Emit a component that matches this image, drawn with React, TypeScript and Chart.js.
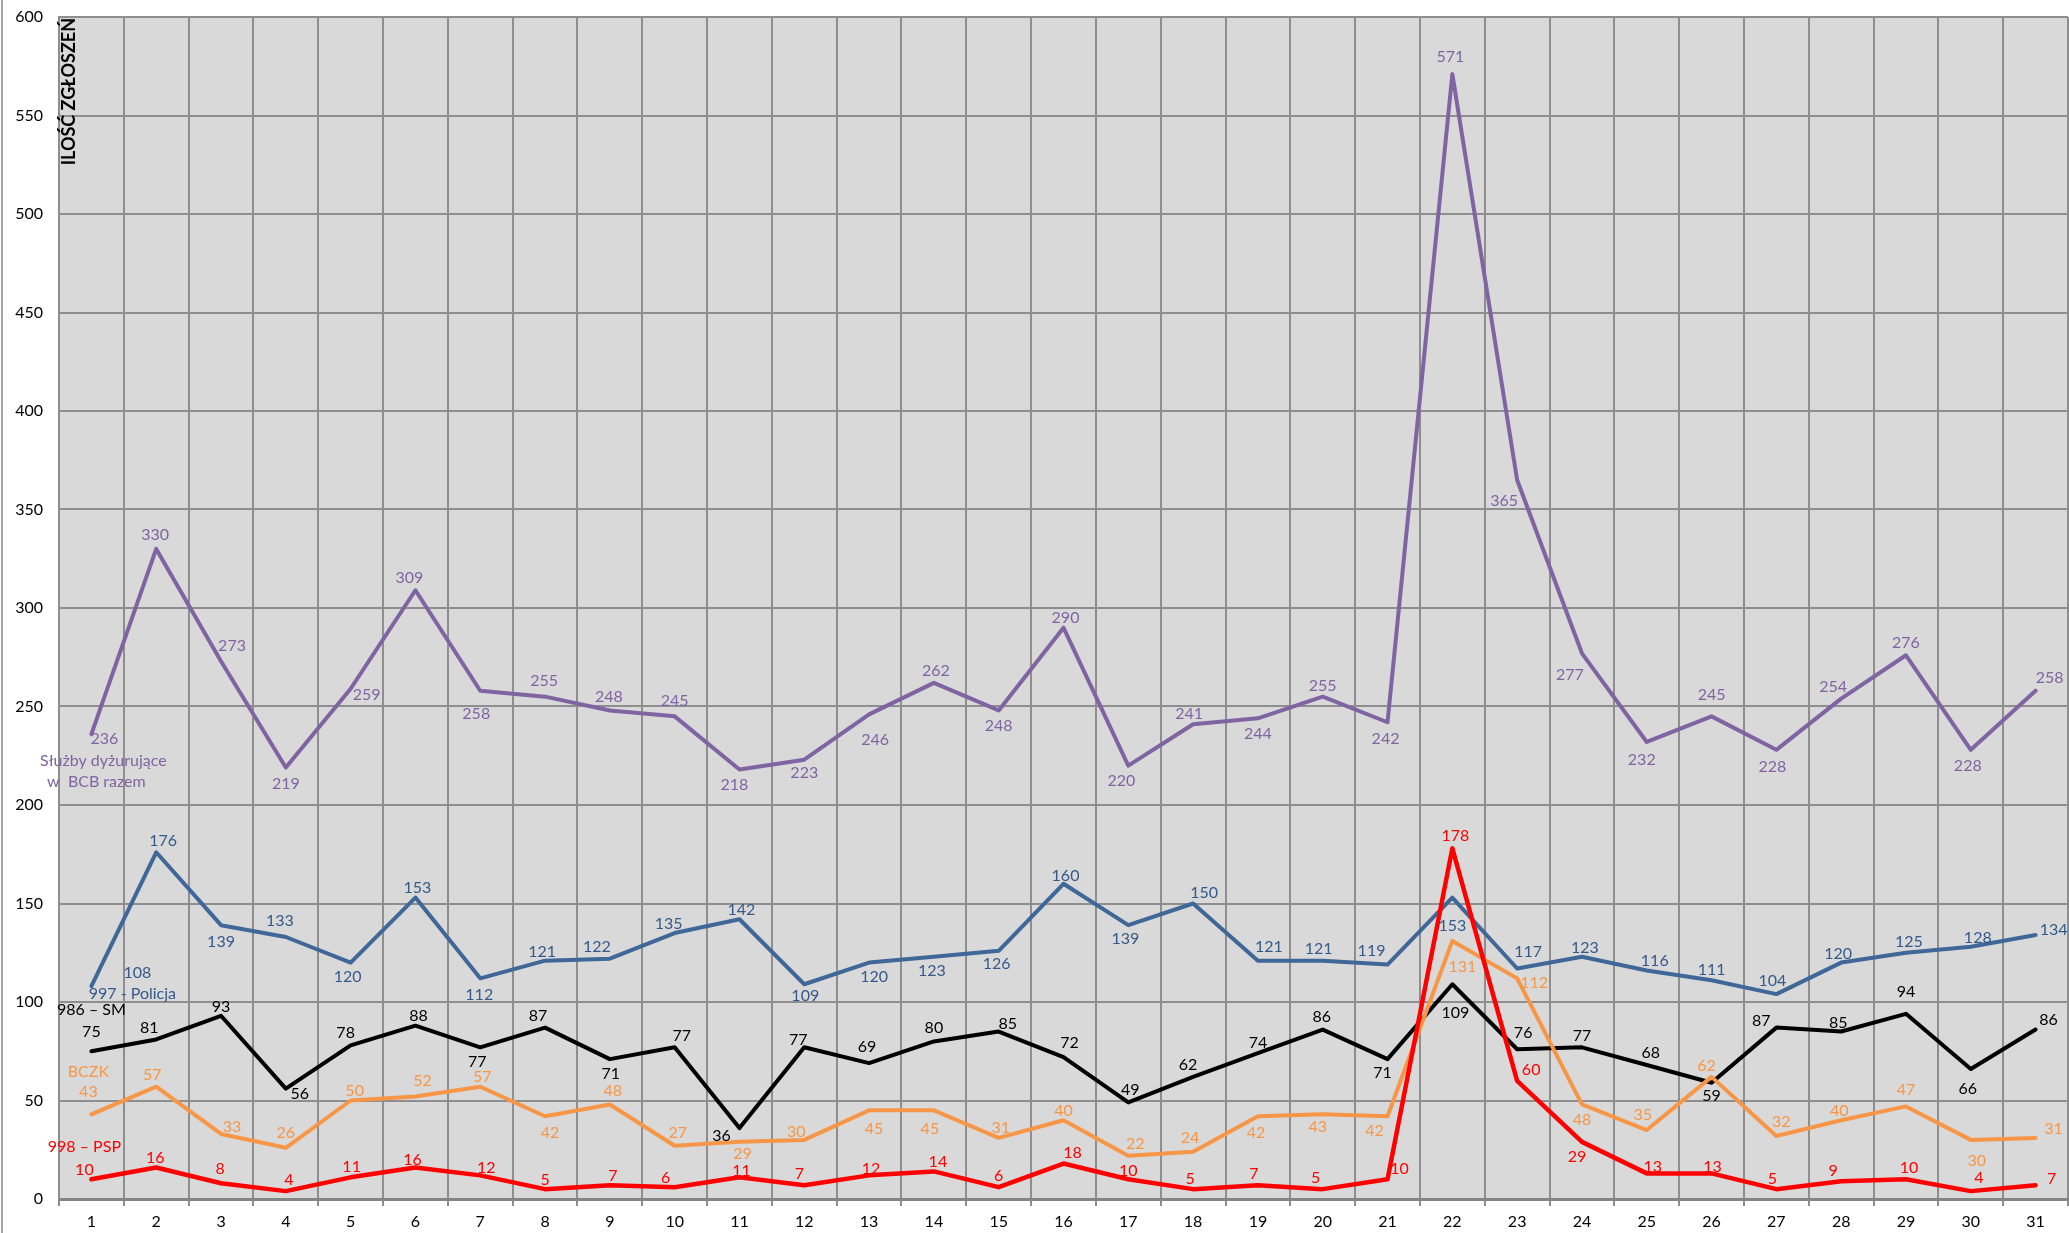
import React, { useEffect, useRef } from 'react';
import { Chart, registerables } from 'chart.js';

Chart.register(...registerables);

// ---------- data ----------
const days: string[] = [
  '1', '2', '3', '4', '5', '6', '7', '8', '9', '10', '11', '12', '13', '14', '15', '16',
  '17', '18', '19', '20', '21', '22', '23', '24', '25', '26', '27', '28', '29', '30', '31',
];

const yTicks: number[] = [0, 50, 100, 150, 200, 250, 300, 350, 400, 450, 500, 550, 600];

const sluzbyRazem: number[] = [
  236, 330, 273, 219, 259, 309, 258, 255, 248, 245, 218, 223, 246, 262, 248, 290,
  220, 241, 244, 255, 242, 571, 365, 277, 232, 245, 228, 254, 276, 228, 258,
];
const policja997: number[] = [
  108, 176, 139, 133, 120, 153, 112, 121, 122, 135, 142, 109, 120, 123, 126, 160,
  139, 150, 121, 121, 119, 153, 117, 123, 116, 111, 104, 120, 125, 128, 134,
];
const sm986: number[] = [
  75, 81, 93, 56, 78, 88, 77, 87, 71, 77, 36, 77, 69, 80, 85, 72,
  49, 62, 74, 86, 71, 109, 76, 77, 68, 59, 87, 85, 94, 66, 86,
];
const bczk: number[] = [
  43, 57, 33, 26, 50, 52, 57, 42, 48, 27, 29, 30, 45, 45, 31, 40,
  22, 24, 42, 43, 42, 131, 112, 48, 35, 62, 32, 40, 47, 30, 31,
];
const psp998: number[] = [
  10, 16, 8, 4, 11, 16, 12, 5, 7, 6, 11, 7, 12, 14, 6, 18,
  10, 5, 7, 5, 10, 178, 60, 29, 13, 13, 5, 9, 10, 4, 7,
];

const axisTitle = 'ILOŚĆ ZGŁOSZEŃ';

// ---------- label placement (pixel offsets from each point) ----------
const purpleLabelOff: [number, number][] = [
  [13, 5], [-1, -14], [11, -15], [0, 16], [16, 6], [-6, -12], [-4, 23], [-1, -16], [-1, -14], [0, -16],
  [-5, 15], [0, 13], [6, 25], [2, -12], [0, 15], [2, -10], [-7, 15], [-4, -10], [0, 16], [0, -11],
  [-2, 17], [-2, -17], [-13, 21], [-12, 22], [-5, 18], [0, -22], [-4, 17], [-8, -12], [0, -12], [-3, 16],
  [14, -13],
];
const blueLabelOff: [number, number][] = [
  [46, -13], [7, -11], [0, 17], [-6, -16], [-3, 14], [2, -10], [-1, 16], [-3, -9], [-13, -12], [-6, -9],
  [2, -9], [1, 12], [5, 14], [-2, 14], [-2, 13], [2, -8], [-3, 14], [11, -11], [11, -14], [-4, -12],
  [-16, -14], [0, 28], [11, -17], [3, -9], [8, -10], [0, -10], [-4, -13], [-3, -9], [3, -11], [7, -9],
  [18, -5],
];
const blackLabelOff: [number, number][] = [
  [0, -19], [-7, -12], [0, -9], [14, 5], [-5, -12], [3, -10], [-3, 15], [-7, -12], [1, 15], [7, -11],
  [-18, 8], [-6, -7], [-2, -16], [0, -14], [9, -8], [6, -14], [2, -13], [-5, -12], [0, -10], [-1, -13],
  [-5, 14], [3, 29], [6, -16], [0, -11], [4, -12], [0, 13], [-15, -7], [-3, -9], [0, -22], [-3, 20],
  [13, -10],
];
const orangeLabelOff: [number, number][] = [
  [-3, -22], [-4, -12], [11, -7], [0, -15], [4, -10], [7, -16], [2, -10], [5, 17], [3, -14], [3, -13],
  [3, 12], [-8, -8], [5, 18], [-4, 18], [2, -10], [0, -9], [7, -12], [-3, -14], [-2, 17], [-5, 13],
  [-13, 15], [10, 26], [17, 4], [0, 15], [-4, -15], [-5, -11], [5, -14], [-2, -9], [0, -17], [6, 21],
  [18, -9],
];
const redLabelOff: [number, number][] = [
  [-7, -9], [-1, -10], [-1, -14], [3, -11], [1, -10], [-3, -8], [6, -8], [0, -9], [3, -9], [-9, -9],
  [2, -6], [-5, -11], [2, -7], [4, -10], [0, -11], [9, -11], [0, -8], [-3, -10], [-4, -11], [-7, -11],
  [12, -10], [3, -12], [14, -11], [-5, 15], [6, -7], [1, -7], [-4, -10], [-8, -10], [3, -11], [8, -13],
  [16, -6],
];

type SeriesNameLabel = { lines: string[]; dx: number[]; dy: number[] };

const FONT_FAMILY = 'Lato, "Noto Sans", "DejaVu Sans", sans-serif';

const seriesDefs = [
  {
    name: '998 – PSP', data: psp998, color: '#FF0000', text: '#FF0000', off: redLabelOff,
    nameLabel: { lines: ['998 – PSP'], dx: [-7], dy: [-32] } as SeriesNameLabel, width: 4.5,
  },
  {
    name: 'BCZK', data: bczk, color: '#F79646', text: '#F79646', off: orangeLabelOff,
    nameLabel: { lines: ['BCZK'], dx: [-3], dy: [-42] } as SeriesNameLabel, width: 4,
  },
  {
    name: '986 – SM', data: sm986, color: '#000000', text: '#000000', off: blackLabelOff,
    nameLabel: { lines: ['986 – SM'], dx: [0], dy: [-41] } as SeriesNameLabel, width: 4,
  },
  {
    name: '997 - Policja', data: policja997, color: '#3F6797', text: '#35598A', off: blueLabelOff,
    nameLabel: { lines: ['997 - Policja'], dx: [41], dy: [8] } as SeriesNameLabel, width: 4,
  },
  {
    name: 'Służby dyżurujące w BCB razem', data: sluzbyRazem, color: '#8064A2', text: '#8064A2',
    off: purpleLabelOff,
    nameLabel: { lines: ['Służby dyżurujące', 'w  BCB razem'], dx: [12, 5], dy: [27, 48] } as SeriesNameLabel,
    width: 4,
  },
];

const decorPlugin = {
  id: 'decor',
  beforeDraw(chart: any) {
    const { ctx, chartArea: a } = chart;
    ctx.save();
    ctx.fillStyle = '#FFFFFF';
    ctx.fillRect(0, 0, chart.width, chart.height);
    ctx.fillStyle = '#D9D9D9';
    ctx.fillRect(a.left, a.top, a.right - a.left, a.bottom - a.top);
    ctx.strokeStyle = '#A6A6A6';
    ctx.lineWidth = 2;
    ctx.beginPath();
    ctx.moveTo(2, 0);
    ctx.lineTo(2, chart.height);
    ctx.stroke();
    ctx.restore();
  },
  afterDatasetsDraw(chart: any) {
    const { ctx, chartArea: a } = chart;
    ctx.save();
    ctx.font = `16px ${FONT_FAMILY}`;
    ctx.textAlign = 'center';
    ctx.textBaseline = 'middle';
    seriesDefs.forEach((s, d) => {
      const meta = chart.getDatasetMeta(d);
      ctx.fillStyle = s.text;
      s.data.forEach((v, i) => {
        const pt = meta.data[i];
        if (!pt) return;
        const [dx, dy] = s.off[i];
        ctx.fillText(String(v), pt.x + dx, pt.y + dy);
      });
      const first = meta.data[0];
      if (first) {
        s.nameLabel.lines.forEach((line, k) => {
          ctx.fillText(line, first.x + s.nameLabel.dx[k], first.y + s.nameLabel.dy[k]);
        });
      }
    });
    ctx.fillStyle = '#000000';
    ctx.font = `bold 18px ${FONT_FAMILY}`;
    ctx.translate(a.left + 10, a.top + 1);
    ctx.rotate(-Math.PI / 2);
    ctx.textAlign = 'right';
    ctx.textBaseline = 'middle';
    ctx.fillText(axisTitle, 0, 0);
    ctx.restore();
  },
};

export default function App() {
  const ref = useRef<HTMLCanvasElement | null>(null);

  useEffect(() => {
    document.body.style.margin = '0';
    document.body.style.overflow = 'hidden';
    const canvas = ref.current;
    if (!canvas) return;
    const chart = new Chart(canvas, {
      type: 'line',
      data: {
        labels: days,
        datasets: seriesDefs.map((s) => ({
          label: s.name,
          data: s.data,
          borderColor: s.color,
          backgroundColor: s.color,
          borderWidth: s.width,
          pointRadius: 0,
          pointHoverRadius: 0,
          tension: 0,
          borderJoinStyle: 'round' as const,
          borderCapStyle: 'round' as const,
        })),
      },
      options: {
        animation: false,
        responsive: false,
        devicePixelRatio: 1,
        events: [],
        layout: { padding: { top: 17, right: 1, bottom: 0, left: 0 } },
        plugins: {
          legend: { display: false },
          tooltip: { enabled: false },
          title: { display: false },
        },
        scales: {
          x: {
            type: 'category',
            offset: true,
            grid: {
              offset: true,
              color: '#8E8E8E',
              lineWidth: 2,
              tickLength: 7,
              tickColor: '#8E8E8E',
              drawTicks: true,
            },
            border: { display: true, color: '#858585', width: 3 },
            ticks: {
              color: '#000000',
              font: { family: FONT_FAMILY, size: 16 },
              padding: 6,
              maxRotation: 0,
              autoSkip: false,
            },
            afterFit: (scale: any) => {
              scale.height = 34;
              scale.paddingLeft = 0;
              scale.paddingRight = 0;
            },
          },
          y: {
            type: 'linear',
            min: 0,
            max: 600,
            afterBuildTicks: (scale: any) => {
              scale.ticks = yTicks.map((v) => ({ value: v }));
            },
            grid: {
              color: '#8E8E8E',
              lineWidth: 2,
              drawTicks: false,
            },
            border: { display: true, color: '#8E8E8E', width: 2 },
            ticks: {
              color: '#000000',
              font: { family: FONT_FAMILY, size: 16 },
              padding: 16,
            },
            afterFit: (scale: any) => {
              scale.width = 59;
              scale.paddingTop = 0;
              scale.paddingBottom = 0;
            },
          },
        },
      },
      plugins: [decorPlugin],
    });
    return () => chart.destroy();
  }, []);

  return (
    <canvas
      ref={ref}
      width={2069}
      height={1233}
      style={{ display: 'block', width: '2069px', height: '1233px' }}
    />
  );
}
